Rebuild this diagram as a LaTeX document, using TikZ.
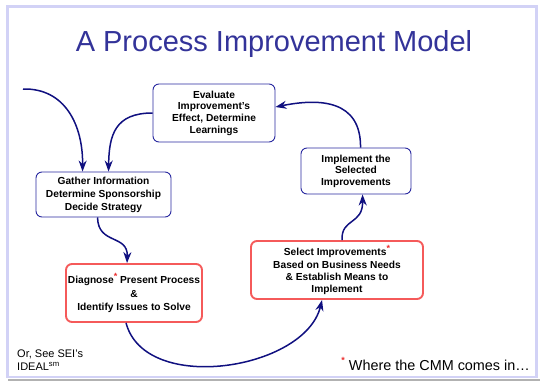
\documentclass[tikz,border=0pt]{standalone}
\usepackage{fontspec}
\setmainfont{Liberation Sans}
\usetikzlibrary{arrows.meta,calc}
\definecolor{navy}{RGB}{16,16,128}
\definecolor{boxblue}{RGB}{40,40,160}
\definecolor{boxred}{RGB}{245,90,90}
\definecolor{astred}{RGB}{235,45,45}
\definecolor{titleblue}{RGB}{51,51,153}
\definecolor{framecol}{RGB}{210,210,246}
\newcommand{\redast}{\textcolor{astred}{\raisebox{0.45em}{\bfseries\fontsize{9}{9}\selectfont *}}}
\begin{document}
\begin{tikzpicture}[x=1pt,y=-1pt,
  bluebox/.style={draw=boxblue, line width=0.9pt, rounded corners=6pt, fill=white,
    align=center, inner sep=0pt, font=\bfseries\fontsize{10.2}{11.6}\selectfont},
  redbox/.style={bluebox, draw=boxred, line width=1.9pt},
  flow/.style={draw=navy, line width=1.5pt, -{Stealth[length=11pt,width=8pt,inset=3.5pt]}},
  plain/.style={inner sep=0pt, anchor=base west}]
\useasboundingbox (0,0) rectangle (542,381);
\draw[gray!60, line width=2pt] (8,380) -- (540,380);
\draw[framecol, line width=2.8pt] (7.5,6.5) rectangle (536.5,377);

\node[anchor=base, inner sep=0pt, font=\fontsize{29}{30}\selectfont, text=titleblue] (title) at (274,51) {A Process Improvement Model};

\node[bluebox, minimum width=122pt, minimum height=58pt] (eval) at (214,113)
  {Evaluate\\Improvement's\\Effect, Determine\\Learnings};
\node[bluebox, minimum width=110pt, minimum height=46pt] (impl) at (356,171)
  {Implement the\\Selected\\Improvements};
\node[bluebox, minimum width=135pt, minimum height=45pt, font=\bfseries\fontsize{10.2}{13}\selectfont] (gather) at (103.5,194.5)
  {Gather Information\\Determine Sponsorship\\Decide Strategy};
\node[redbox, minimum width=136pt, minimum height=58pt, font=\bfseries\fontsize{10.2}{13.5}\selectfont] (diag) at (134,293)
  {Diagnose\redast{} Present Process\\\&\\Identify Issues to Solve};
\node[redbox, minimum width=172pt, minimum height=58pt, font=\bfseries\fontsize{10.2}{12.3}\selectfont] (select) at (337,270)
  {Select Improvements\redast\\Based on Business Needs\\\& Establish Means to\\Implement};

\coordinate (start) at (23,89);
\draw[flow] (start) .. controls (65,88) and (83,125) .. ($(gather.north west)+(47,0)$);
\draw[flow] (eval.west) .. controls (115,113) and (109,135) .. ($(gather.north west)+(73,0)$);
\draw[flow] ($(impl.north west)+(60,0)$) .. controls (361,100) and (320,98) .. ($(eval.east)+(0,-6)$);
\draw[flow] ($(gather.south west)+(62,0)$) .. controls (98,245) and (128,234) .. ($(diag.north west)+(62,0)$);
\draw[flow] ($(diag.south west)+(61,0)$) .. controls (145,395) and (305,370) .. ($(select.south west)+(72,0)$);
\draw[flow] ($(select.north west)+(92,0)$) .. controls (341,218) and (363,225) .. ($(impl.south west)+(62,0)$);

\node[plain, font=\fontsize{11}{12}\selectfont] (sei) at (17,357) {Or, See SEI’s};
\node[plain, font=\fontsize{11}{12}\selectfont] (ideal) at (17,370) {IDEAL\textsuperscript{sm}};
\node[plain, anchor=base east, font=\fontsize{14.4}{15}\selectfont] (cmm) at (530,370) {\redast\ Where the CMM comes in…};
\end{tikzpicture}
\end{document}
